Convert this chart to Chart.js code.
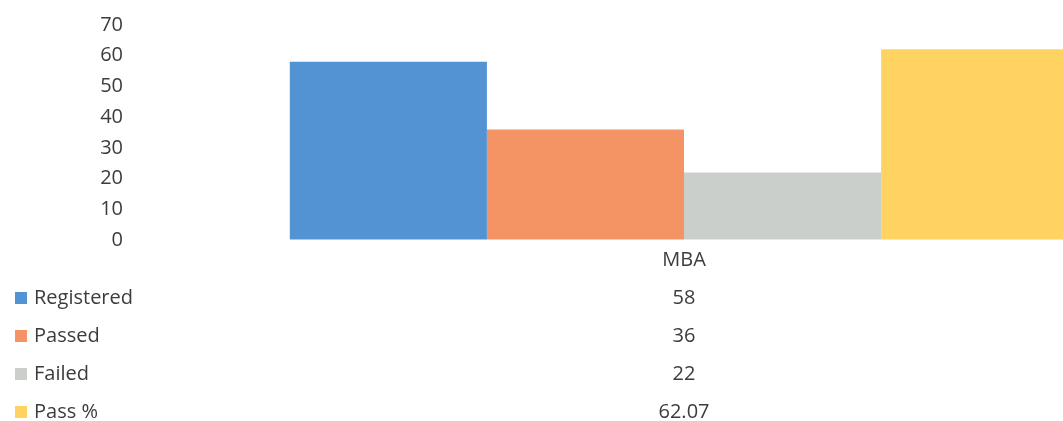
<!DOCTYPE html>
<html>
<head>
<meta charset="utf-8">
<script src="https://cdn.jsdelivr.net/npm/chart.js@4/dist/chart.umd.min.js"></script>
<style>
  html, body { margin: 0; padding: 0; background: #fff; overflow: hidden; }
  #wrap { width: 1063px; height: 421px; overflow: hidden; position: relative; }
  canvas { display: block; }
</style>
</head>
<body>
<div id="wrap"><canvas id="c" width="1224" height="421"></canvas></div>
<script>
const categories = ['MBA'];
const seriesNames = ['Registered', 'Passed', 'Failed', 'Pass %'];
const registered = [58];
const passed = [36];
const failed = [22];
const passPct = [62.07];
const seriesColors = ['#5393D4', '#F49464', '#CACFCC', '#FED362'];
const yMin = 0, yMax = 70, yStep = 10;

const seriesValues = [registered, passed, failed, passPct];
const FONT = "'Open Sans', sans-serif";
const TEXT = '#3c3c3c';

const tablePlugin = {
  id: 'dataTable',
  afterDraw(chart) {
    const ctx = chart.ctx;
    const xs = chart.scales.x;
    const area = chart.chartArea;
    ctx.save();
    ctx.font = '20px ' + FONT;
    ctx.fillStyle = TEXT;
    ctx.textBaseline = 'middle';
    const rowH = 38;
    const headY = area.bottom + 20;
    categories.forEach((cat, ci) => {
      const cx = xs.getPixelForValue(ci);
      ctx.textAlign = 'center';
      ctx.fillStyle = TEXT;
      ctx.fillText(cat, cx, headY);
      seriesValues.forEach((vals, si) => {
        ctx.fillText(String(vals[ci]), cx, headY + rowH * (si + 1));
      });
    });
    seriesNames.forEach((name, si) => {
      const y = headY + rowH * (si + 1);
      ctx.fillStyle = seriesColors[si];
      ctx.fillRect(15, y - 6, 12, 12);
      ctx.fillStyle = TEXT;
      ctx.textAlign = 'left';
      ctx.fillText(name, 34, y);
    });
    ctx.restore();
  }
};

new Chart(document.getElementById('c'), {
  type: 'bar',
  data: {
    labels: categories,
    datasets: seriesNames.map((n, i) => ({
      label: n,
      data: seriesValues[i],
      backgroundColor: seriesColors[i],
      borderWidth: 0,
      barPercentage: 1.0,
      categoryPercentage: 0.73
    }))
  },
  options: {
    responsive: false,
    animation: false,
    layout: { padding: { top: 25, bottom: 181, left: 0, right: 0 } },
    plugins: { legend: { display: false }, tooltip: { enabled: false } },
    scales: {
      x: { display: false },
      y: {
        min: yMin, max: yMax,
        grid: { display: true, drawOnChartArea: false, drawTicks: true, tickLength: 21, color: 'rgba(0,0,0,0)' },
        border: { display: false },
        ticks: { stepSize: yStep, padding: 0, color: TEXT, font: { family: FONT, size: 20 } },
        afterFit(s) { s.width = 144; }
      }
    }
  },
  plugins: [tablePlugin]
});
</script>
</body>
</html>
